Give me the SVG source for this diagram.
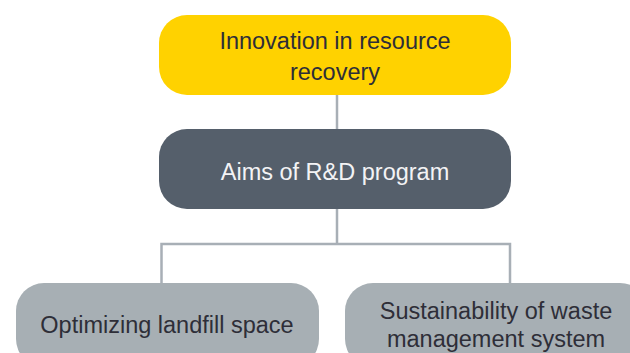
<svg xmlns="http://www.w3.org/2000/svg" width="630" height="353" viewBox="0 0 630 353">
<style>
text{font-family:"Liberation Sans",Arial,sans-serif;font-size:23.5px;text-anchor:middle}
.dk{fill:#2E2E38}
.wt{fill:#F3F3F5}
.ln{stroke:#A8AFB6;stroke-width:2.5;fill:none}
</style>
<rect width="630" height="353" fill="#FFFFFF"/>
<g id="connectors">
<path class="ln" d="M337 95V130"/>
<path class="ln" d="M337 209V244M161.5 284V244H510V284"/>
</g>
<g id="n1">
<rect x="159" y="15" width="352" height="80" rx="28" fill="#FFD200"/>
<text class="dk" x="335" y="48.5">Innovation in resource</text>
<text class="dk" x="335" y="80">recovery</text>
</g>
<g id="n2">
<rect x="159" y="129" width="352" height="80" rx="28" fill="#555F6B"/>
<text class="wt" x="335" y="180">Aims of R&amp;D program</text>
</g>
<g id="n3">
<rect x="16" y="283" width="303" height="84" rx="28" fill="#A7AFB4"/>
<text class="dk" x="167" y="333">Optimizing landfill space</text>
</g>
<g id="n4">
<rect x="345" y="283" width="303" height="84" rx="28" fill="#A7AFB4"/>
<text class="dk" x="496" y="318.5">Sustainability of waste</text>
<text class="dk" x="496" y="347">management system</text>
</g>
</svg>
